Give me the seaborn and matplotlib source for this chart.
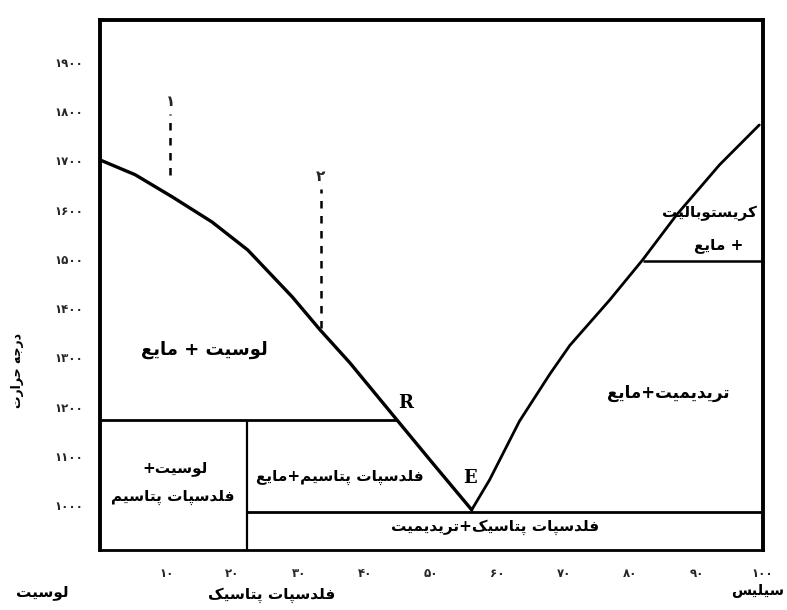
import pandas as pd
import matplotlib
matplotlib.use("Agg")
import matplotlib.pyplot as plt
import seaborn as sns

# liquidus, leucite side (composition, temperature C)
leucite_liq_x = [0, 5.3, 10.9, 16.9, 22.3, 29.0, 33.2, 37.7, 44.8, 50.2, 56.1]
leucite_liq_t = [1701, 1671, 1626, 1575, 1518, 1423, 1356, 1289, 1173, 1085, 990]
# liquidus, silica side
silica_liq_x = [56.1, 58.8, 63.3, 67.9, 70.9, 76.9, 81.9, 87.0, 93.5, 99.5]
silica_liq_t = [990, 1051, 1170, 1266, 1324, 1416, 1498, 1589, 1691, 1772]

T_PERITECTIC = 1173
X_PERITECTIC = 44.8
T_EUTECTIC = 990
X_KSPAR = 22.2
T_CRIST = 1496
X_CRIST = 81.9

# dashed cooling paths ۱ and ۲
path_x = [10.6, 33.3]
path_top = [1819, 1667]
path_bottom = [1671, 1360]
path_names = ["۱", "۲"]

x_ticks = [10, 20, 30, 40, 50, 60, 70, 80, 90, 100]
y_ticks = [1000, 1100, 1200, 1300, 1400, 1500, 1600, 1700, 1800, 1900]

FORMS = {
    'ا': (0xFE8D, 0xFE8E, None, None),
    'ب': (0xFE8F, 0xFE90, 0xFE91, 0xFE92),
    'پ': (0xFB56, 0xFB57, 0xFB58, 0xFB59),
    'ت': (0xFE95, 0xFE96, 0xFE97, 0xFE98),
    'ج': (0xFE9D, 0xFE9E, 0xFE9F, 0xFEA0),
    'ح': (0xFEA1, 0xFEA2, 0xFEA3, 0xFEA4),
    'د': (0xFEA9, 0xFEAA, None, None),
    'ر': (0xFEAD, 0xFEAE, None, None),
    'س': (0xFEB1, 0xFEB2, 0xFEB3, 0xFEB4),
    'ع': (0xFEC9, 0xFECA, 0xFECB, 0xFECC),
    'ف': (0xFED1, 0xFED2, 0xFED3, 0xFED4),
    'ک': (0xFB8E, 0xFB8F, 0xFB90, 0xFB91),
    'ل': (0xFEDD, 0xFEDE, 0xFEDF, 0xFEE0),
    'م': (0xFEE1, 0xFEE2, 0xFEE3, 0xFEE4),
    'ه': (0xFEE9, 0xFEEA, 0xFEEB, 0xFEEC),
    'و': (0xFEED, 0xFEEE, None, None),
    'ی': (0xFBFC, 0xFBFD, 0xFBFE, 0xFBFF),
}


def fa(s):
    # shape persian letters and put them in visual (right to left) order
    out = []
    for i, c in enumerate(s):
        if c not in FORMS:
            out.append(c)
            continue
        iso, fin, ini, med = FORMS[c]
        prev = s[i - 1] if i > 0 else ''
        nxt = s[i + 1] if i + 1 < len(s) else ''
        jp = prev in FORMS and FORMS[prev][2] is not None
        jn = ini is not None and nxt in FORMS
        if jp and jn:
            code = med
        elif jp:
            code = fin
        elif jn:
            code = ini
        else:
            code = iso
        out.append(chr(code))
    return ''.join(reversed(out))


def fa_num(n):
    return ''.join('۰۱۲۳۴۵۶۷۸۹'[int(d)] for d in str(n))


sns.set_style("white")
plt.rcParams['font.family'] = ['DejaVu Sans']

fig = plt.figure(figsize=(7.87, 6.10), dpi=100)
ax = fig.add_axes([0.127, 0.098, 0.842, 0.869])

df_left = pd.DataFrame({'x': leucite_liq_x, 't': leucite_liq_t})
df_right = pd.DataFrame({'x': silica_liq_x, 't': silica_liq_t})
sns.lineplot(data=df_left, x='x', y='t', ax=ax, color='black', lw=2.4, sort=False, estimator=None)
sns.lineplot(data=df_right, x='x', y='t', ax=ax, color='black', lw=2.0, sort=False, estimator=None)

ax.hlines(T_PERITECTIC, 0, X_PERITECTIC, color='black', lw=2.0)
ax.vlines(X_KSPAR, 900, T_PERITECTIC, color='black', lw=1.6)
ax.hlines(T_EUTECTIC - 4, X_KSPAR, 100, color='black', lw=2.0)
ax.hlines(T_CRIST, X_CRIST, 100, color='black', lw=1.8)

for px, top, bot, nm in zip(path_x, path_top, path_bottom, path_names):
    ax.vlines(px, bot, top - 25, color='black', lw=1.8, linestyles=(0, (3, 3)))
    ax.text(px, top, nm, ha='center', va='center', fontsize=11, fontweight='bold')

ax.set_xlim(0, 100)
ax.set_ylim(908, 1985)
ax.set_xticks(x_ticks)
ax.set_xticklabels([fa_num(v) for v in x_ticks], fontsize=8.5, fontweight='bold')
ax.set_yticks(y_ticks)
ax.set_yticklabels([fa_num(v) for v in y_ticks], fontsize=8.5, fontweight='bold')
ax.tick_params(axis='both', direction='in', length=5, width=1.5, pad=12)
ax.set_xlabel('')
ax.set_ylabel('')
for side in ['left', 'top', 'right']:
    ax.spines[side].set_linewidth(2.8)
ax.spines['bottom'].set_linewidth(2.0)
for sp in ax.spines.values():
    sp.set_color('black')

lab = dict(ha='center', va='center', fontweight='bold', color='black')
ax.text(15.8, 1315, fa('لوسیت + مایع'), fontsize=13, **lab)
ax.text(11.3, 1075, fa('لوسیت+'), fontsize=11, **lab)
ax.text(11.0, 1016, fa('فلدسپات پتاسیم'), fontsize=11, **lab)
ax.text(36.2, 1055, fa('فلدسپات پتاسیم+مایع'), fontsize=11, **lab)
ax.text(59.6, 955, fa('فلدسپات پتاسیک+تریدیمیت'), fontsize=11, **lab)
ax.text(85.7, 1228, fa('تریدیمیت+مایع'), fontsize=12, **lab)
ax.text(92.0, 1593, fa('کریستوبالیت'), fontsize=11, **lab)
ax.text(93.4, 1528, fa('+ مایع'), fontsize=11, **lab)
ax.text(46.2, 1207, 'R', fontsize=13, family='DejaVu Serif', **lab)
ax.text(55.8, 1055, 'E', fontsize=13, family='DejaVu Serif', **lab)

fig.text(18 / 787, 1 - 370 / 610, fa('درجه حرارت'), rotation=90, fontsize=9, **lab)
fig.text(42 / 787, 1 - 592 / 610, fa('لوسیت'), fontsize=11, **lab)
fig.text(272 / 787, 1 - 595 / 610, fa('فلدسپات پتاسیک'), fontsize=11, **lab)
fig.text(758 / 787, 1 - 590 / 610, fa('سیلیس'), fontsize=10.5, **lab)

fig.savefig('out.png', dpi=100)
